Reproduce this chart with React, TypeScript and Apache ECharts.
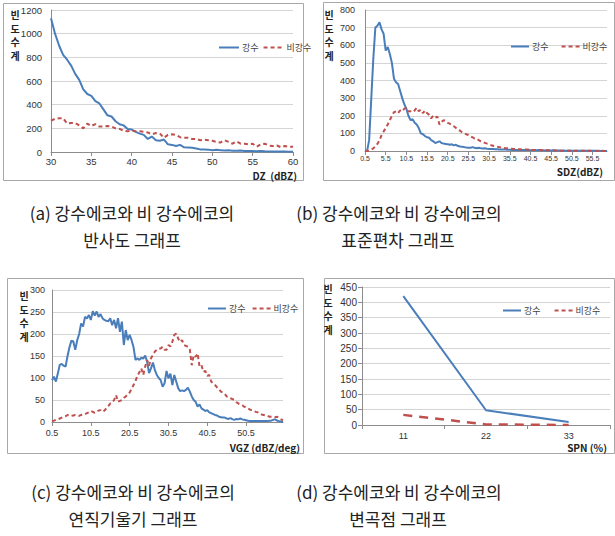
import React, { useEffect, useRef } from 'react';
import * as echarts from 'echarts';

const RAIN = '강수';
const NON_RAIN = '비강수';

// (a) DZ (dBZ): categories 30..60 step 0.5
const dzRain = [
  1130, 1000, 900, 820, 780, 730, 660, 610, 530, 490,
  475, 430, 410, 360, 310, 300, 260, 235, 225, 195,
  190, 170, 155, 145, 110, 130, 100, 95, 105, 65,
  60, 50, 60, 40, 38, 35, 30, 22, 22, 20,
  15, 18, 15, 12, 14, 10, 10, 12, 8, 8,
  8, 6, 8, 6, 5, 5, 5, 4, 4, 3,
  3,
];
const dzNonRain = [
  265, 280, 285, 285, 240, 245, 245, 225, 200, 240,
  220, 235, 215, 215, 220, 215, 200, 195, 180, 175,
  180, 175, 175, 170, 165, 150, 160, 155, 120, 145,
  150, 145, 125, 120, 120, 110, 110, 100, 105, 100,
  95, 85, 80, 100, 85, 70, 90, 70, 70, 65,
  70, 45, 65, 70, 55, 50, 55, 40, 50, 45,
  45,
];

// (b) SDZ (dBZ): categories 0.5..59.0 step 0.5
const sdzRain = [
  0, 0, 60, 290, 520, 700, 710, 730, 690, 665,
  570, 590, 550, 500, 410, 390, 380, 340, 300, 265,
  240, 200, 175, 180, 160, 150, 130, 100, 95, 85,
  78, 75, 62, 55, 45, 50, 55, 45, 42, 40,
  38, 35, 38, 32, 35, 28, 25, 24, 22, 20,
  19, 18, 22, 18, 16, 18, 15, 14, 15, 13,
  12, 12, 11, 10, 10, 9, 9, 8, 8, 7,
  7, 6, 6, 6, 5, 5, 5, 6, 5, 5,
  4, 5, 4, 4, 5, 4, 4, 3, 4, 3,
  3, 4, 3, 3, 3, 2, 3, 2, 2, 3,
  2, 2, 2, 2, 1, 2, 1, 1, 1, 1,
  1, 1, 1, 1, 0, 1, 0, 0,
];
const sdzNonRain = [
  0, 0, 2, 8, 15, 25, 40, 60, 90, 110,
  130, 150, 175, 200, 220, 225, 215, 230, 225, 240,
  245, 225, 225, 220, 230, 245, 225, 235, 215, 230,
  215, 205, 185, 200, 190, 195, 150, 165, 175, 170,
  160, 155, 145, 140, 130, 120, 115, 105, 100, 95,
  90, 82, 78, 70, 68, 62, 55, 50, 46, 42,
  38, 33, 30, 27, 24, 22, 20, 18, 16, 15,
  14, 13, 12, 11, 10, 10, 9, 9, 8, 8,
  7, 6, 6, 5, 5, 5, 4, 4, 4, 4,
  3, 3, 3, 3, 3, 2, 2, 2, 2, 2,
  2, 2, 1, 1, 1, 1, 1, 1, 1, 1,
  0, 0, 0, 0, 0, 0, 0, 0,
];

// (c) VGZ (dBZ/deg): categories 0.5..60.0 step 0.5
const vgzRain = [
  95, 103, 92, 110, 130, 132, 128, 126, 150, 170,
  185, 183, 164, 186, 200, 224, 217, 239, 235, 243,
  232, 252, 242, 251, 239, 245, 236, 232, 230, 229,
  236, 220, 232, 213, 236, 205, 228, 175, 209, 186,
  198, 186, 170, 141, 145, 141, 146, 144, 151, 137,
  111, 122, 135, 118, 107, 100, 95, 80, 88, 116,
  99, 110, 84, 107, 92, 77, 70, 72, 70, 73,
  78, 69, 58, 50, 46, 35, 40, 31, 28, 25,
  27, 22, 20, 18, 16, 15, 12, 11, 10, 10,
  8, 7, 9, 6, 5, 7, 6, 8, 6, 5,
  4, 3, 2, 2, 2, 2, 2, 2, 2, 2,
  2, 2, 3, 3, 5, 6, 3, 2, 1, 0,
];
const vgzNonRain = [
  2, 3, 5, 6, 8, 10, 12, 13, 16, 15,
  14, 15, 16, 15, 14, 16, 17, 18, 20, 22,
  25, 23, 21, 24, 26, 27, 23, 26, 31, 36,
  42, 44, 50, 61, 46, 48, 50, 55, 58, 63,
  67, 75, 84, 93, 105, 113, 122, 107, 126, 141,
  128, 145, 152, 160, 164, 167, 167, 171, 164, 164,
  175, 172, 182, 198, 201, 190, 182, 186, 175, 173,
  171, 165, 129, 152, 148, 156, 126, 129, 114, 116,
  105, 107, 92, 88, 84, 79, 75, 69, 67, 64,
  58, 56, 54, 52, 50, 45, 42, 40, 38, 35,
  33, 31, 28, 27, 25, 23, 22, 20, 17, 16,
  15, 14, 12, 12, 12, 11, 12, 8, 6, 4,
];

// (d) SPN (%)
const spnCategories = ['11', '22', '33'];
const spnRain = [420, 48, 10];
const spnNonRain = [33, 2, 0];

const catLabels = (start: number, step: number, n: number) =>
  Array.from({ length: n }, (_, i) => {
    const v = start + step * i;
    return Number.isInteger(v) ? String(v) : v.toFixed(1);
  });

const dzCategories = catLabels(30, 0.5, dzRain.length);
const sdzCategories = catLabels(0.5, 0.5, sdzRain.length);
const vgzCategories = catLabels(0.5, 0.5, vgzRain.length);

const captions = [
  { x: 132, y: 212, text: '(a) 강수에코와 비 강수에코의' },
  { x: 132, y: 239, text: '반사도 그래프' },
  { x: 399, y: 212, text: '(b) 강수에코와 비 강수에코의' },
  { x: 398, y: 239, text: '표준편차 그래프' },
  { x: 133, y: 491, text: '(c) 강수에코와 비 강수에코의' },
  { x: 133, y: 518, text: '연직기울기 그래프' },
  { x: 399, y: 491, text: '(d) 강수에코와 비 강수에코의' },
  { x: 398, y: 518, text: '변곡점 그래프' },
];

const BLUE = '#4a7ebb';
const RED = '#c0504d';
const NUM_FONT = '"Liberation Sans", Arial, sans-serif';
const KR_FONT = '"Noto Sans CJK KR", "Noto Sans", sans-serif';
const AXIS_COLOR = '#8c8c8c';
const GRID_COLOR = '#d4d4d4';

export default function App() {
  const ref = useRef<HTMLDivElement>(null);

  useEffect(() => {
    if (!ref.current) return;
    const chart = echarts.init(ref.current, undefined, { renderer: 'svg' });

    const grids = [
      { left: 51, top: 10, width: 242, height: 142 },
      { left: 365, top: 10, width: 242, height: 141 },
      { left: 52, top: 290, width: 231, height: 132 },
      { left: 362, top: 287, width: 248, height: 138 },
    ];

    const catX = (idx: number, data: string[], interval: number, fontSize: number, margin: number, boundaryGap = false) => ({
      type: 'category',
      gridIndex: idx,
      data,
      boundaryGap,
      axisLine: { show: true, lineStyle: { color: AXIS_COLOR, width: 1 } },
      axisTick: { show: true, interval: boundaryGap ? 'auto' : interval, length: 4, lineStyle: { color: AXIS_COLOR } },
      axisLabel: { interval, fontSize, margin, color: '#333', fontFamily: NUM_FONT },
      splitLine: { show: false },
    });

    const valY = (idx: number, max: number, interval: number, fontSize: number, margin: number, tick = false) => ({
      type: 'value',
      gridIndex: idx,
      min: 0,
      max,
      interval,
      axisLine: { show: true, lineStyle: { color: AXIS_COLOR, width: 1 } },
      axisTick: { show: tick, length: 4, lineStyle: { color: AXIS_COLOR } },
      axisLabel: { fontSize, margin, color: '#333', fontFamily: NUM_FONT, formatter: (v: number) => String(v) },
      splitLine: { show: true, lineStyle: { color: GRID_COLOR, width: 1 } },
    });

    const lineSeries = (name: string, idx: number, data: number[], color: string, dash: any, width = 2) => ({
      name,
      type: 'line',
      xAxisIndex: idx,
      yAxisIndex: idx,
      data,
      symbol: 'none',
      showSymbol: false,
      smooth: false,
      lineStyle: { color, width, type: dash },
      itemStyle: { color },
      emphasis: { disabled: true },
    });

    const legend = (left: number, top: number, itemGap: number, itemWidth: number) => ({
      left,
      top,
      orient: 'horizontal',
      itemWidth,
      itemHeight: 8,
      itemGap,
      selectedMode: false,
      itemStyle: { opacity: 0, borderWidth: 0 },
      textStyle: { fontSize: 9, color: '#404040', fontFamily: KR_FONT, padding: [0, 0, 0, -2] },
      data: [RAIN, NON_RAIN],
    });

    const frames = [
      [3.5, 3.5, 300, 177],
      [323.5, 2.5, 291, 178],
      [7.5, 278.5, 296, 175],
      [324.5, 278.5, 290, 175],
    ].map(([x, y, w, h]) => ({
      type: 'rect',
      shape: { x, y, width: w, height: h },
      style: { fill: 'none', stroke: '#a8a8a8', lineWidth: 1 },
      silent: true,
    }));

    const yNames = [
      [15, 8],
      [329, 8],
      [24, 289],
      [328, 282],
    ].map(([x, y]) => ({
      type: 'text',
      x,
      y,
      style: {
        text: '빈\n도\n수\n계',
        fontSize: 10,
        fontWeight: 'bold',
        lineHeight: 13.5,
        fontFamily: KR_FONT,
        fill: '#222',
        textAlign: 'center',
        textVerticalAlign: 'top',
      },
      silent: true,
    }));

    const axisNames = [
      { x: 297, y: 175, text: 'DZ  (dBZ)' },
      { x: 603, y: 171, text: 'SDZ(dBZ)' },
      { x: 300, y: 447, text: 'VGZ (dBZ/deg)' },
      { x: 607, y: 447, text: 'SPN (%)' },
    ].map((a) => ({
      type: 'text',
      x: a.x,
      y: a.y,
      style: {
        text: a.text,
        fontSize: 10,
        fontWeight: 'bold',
        fontFamily: KR_FONT,
        fill: '#222',
        textAlign: 'right',
        textVerticalAlign: 'middle',
      },
      silent: true,
    }));

    const captionTexts = captions.map((c) => ({
      type: 'text',
      x: c.x,
      y: c.y,
      style: {
        text: c.text,
        fontSize: 17,
        fontFamily: KR_FONT,
        fill: '#222',
        textAlign: 'center',
        textVerticalAlign: 'middle',
      },
      silent: true,
    }));

    chart.setOption({
      animation: false,
      backgroundColor: '#ffffff',
      grid: grids,
      legend: [
        legend(213, 38, 4, 20),
        legend(505, 37, 12, 18),
        legend(202, 299, 6, 18),
        legend(497, 301, 13, 18),
      ],
      xAxis: [
        catX(0, dzCategories, 9, 9.5, 4),
        catX(1, sdzCategories, 9, 7, 4),
        catX(2, vgzCategories, 19, 9, 6),
        catX(3, spnCategories, 0, 9, 6, true),
      ],
      yAxis: [
        valY(0, 1200, 200, 9.5, 9),
        valY(1, 800, 100, 9, 10),
        valY(2, 300, 50, 9, 7),
        valY(3, 450, 50, 10, 5, true),
      ],
      series: [
        lineSeries(RAIN, 0, dzRain, BLUE, 'solid'),
        lineSeries(NON_RAIN, 0, dzNonRain, RED, [4, 3]),
        lineSeries(RAIN, 1, sdzRain, BLUE, 'solid'),
        lineSeries(NON_RAIN, 1, sdzNonRain, RED, [4, 3]),
        lineSeries(RAIN, 2, vgzRain, BLUE, 'solid'),
        lineSeries(NON_RAIN, 2, vgzNonRain, RED, [4, 3]),
        lineSeries(RAIN, 3, spnRain, BLUE, 'solid'),
        lineSeries(NON_RAIN, 3, spnNonRain, RED, [9, 7], 2.5),
      ],
      graphic: [...frames, ...yNames, ...axisNames, ...captionTexts],
    });

    return () => chart.dispose();
  }, []);

  return (
    <div
      ref={ref}
      style={{ position: 'absolute', left: 0, top: 0, width: 615, height: 536, background: '#fff' }}
    />
  );
}
